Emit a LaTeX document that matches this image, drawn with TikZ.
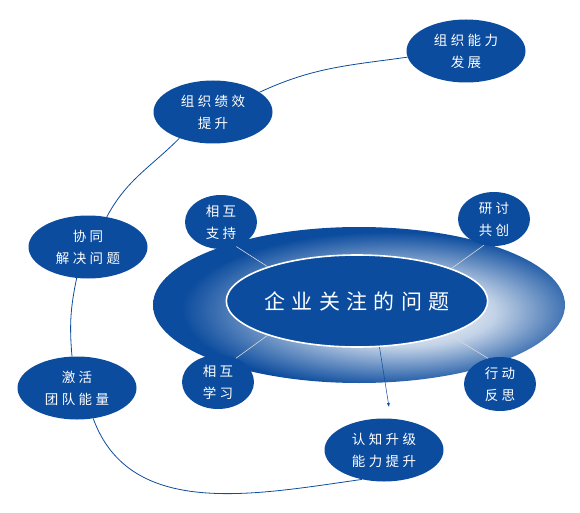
\documentclass[tikz,border=0pt]{standalone}
\usepackage{fontspec}
\newfontfamily\cjk[LetterSpace=25]{Noto Sans CJK SC}
\newfontfamily\cjkwide[LetterSpace=30]{Noto Sans CJK SC}
\usetikzlibrary{shapes.geometric,arrows.meta}
\definecolor{deepblue}{RGB}{12,76,158}
\pgfdeclareradialshading{glow}{\pgfpoint{7bp}{-3bp}}{color(0bp)=(white); color(11bp)=(deepblue!25); color(25bp)=(deepblue); color(50bp)=(deepblue)}

\begin{document}
\begin{tikzpicture}[
  x=1pt,y=1pt,
  bubble/.style={ellipse,fill=deepblue,text=white,inner sep=0pt,align=center,
    font=\cjk\fontsize{13.5}{22}\selectfont},
  duo/.style={bubble,minimum width=72pt,minimum height=54pt},
  goal/.style={bubble,minimum width=119pt,minimum height=63pt},
  spoke/.style={white!70!gray,line width=0.6pt},
  link/.style={deepblue,line width=0.8pt},
  pointer/.style={-{Latex[length=4pt,width=3pt]},deepblue,line width=0.5pt}
]
  \useasboundingbox (0,0) rectangle (580,512);

  % centre
  \node[ellipse,inner sep=0pt,minimum width=412pt,minimum height=156pt,
    shade,shading=glow] (ring) at (359,207) {};
  \node[ellipse,inner sep=0pt,minimum width=260pt,minimum height=92pt,
    fill=deepblue,draw=white,line width=1.6pt,text=white,
    font=\cjkwide\fontsize{21}{21}\selectfont] (core) at (357,211) {企业关注的问题};

  \node[duo] (support) at (221,290) {相互\\支持};
  \node[duo] (discuss) at (494,293) {研讨\\共创};
  \node[duo] (learn) at (218,130) {相互\\学习};
  \node[duo] (reflect) at (500,128) {行动\\反思};

  \draw[spoke] (support.302) -- (core.159);
  \draw[spoke] (discuss.249) -- (core.19);
  \draw[spoke] (learn.53) -- (core.201);
  \draw[spoke] (reflect.115) -- (core.340);

  % outer chain
  \node[goal] (develop) at (466,461) {组织能力\\发展};
  \node[goal] (perform) at (213,400) {组织绩效\\提升};
  \node[goal] (solve) at (88,265) {协同\\解决问题};
  \node[goal] (energy) at (77,124) {激活\\团队能量};
  \node[goal] (cognize) at (384,62) {认知升级\\能力提升};

  \draw[link] (develop.186) to[out=188,in=25] (perform.23);
  \draw[link] (perform.218) to[out=225,in=62] (solve.58);
  \draw[link] (solve.250) to[out=258,in=95] (energy.99);
  \draw[link] (energy.298) to[out=290,in=188] (cognize.233);

  \coordinate (arrowend) at (389,105);
  \draw[pointer] (core.296) -- (arrowend);
\end{tikzpicture}
\end{document}
